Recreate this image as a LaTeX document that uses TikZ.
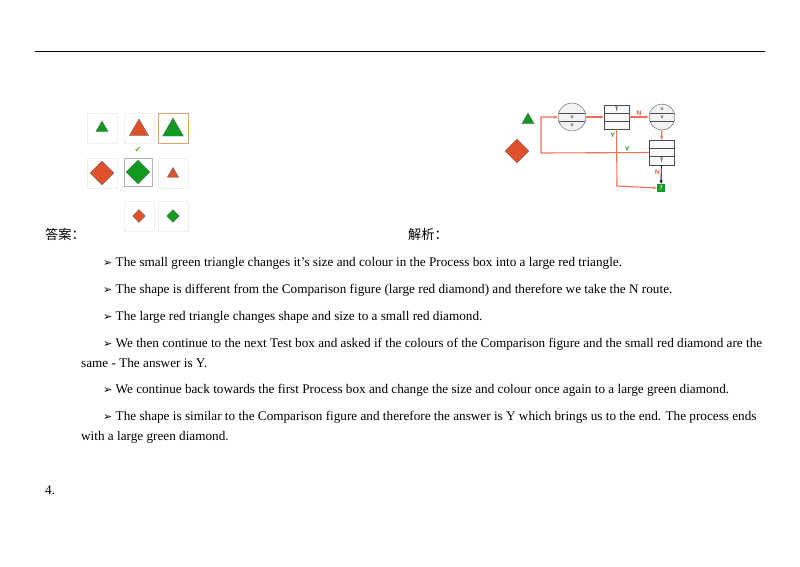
\documentclass[tikz,border=0pt]{standalone}
\usepackage{fontspec}
\setmainfont{Liberation Serif}
\newfontfamily\cjk{Noto Sans CJK SC}
\newfontfamily\djv{DejaVu Sans}
\usetikzlibrary{arrows.meta,shapes.geometric}
\definecolor{rd}{HTML}{E0502A}
\definecolor{gr}{HTML}{109A20}
\definecolor{ln}{HTML}{EE7055}
\newcommand{\bul}{{\djv\fontsize{11}{11}\selectfont ➢}}
\begin{document}
\begin{tikzpicture}[x=1pt,y=-1pt,
 tx/.style={anchor=west,inner sep=0,font=\fontsize{13.2}{14}\selectfont},
 cell/.style={draw=black!6,minimum size=30pt,inner sep=0},
 tri/.style={regular polygon,regular polygon sides=3,inner sep=0,draw=black!60,line width=0.4pt},
 dia/.style={diamond,inner sep=0,draw=black!60,line width=0.4pt},
 fl/.style={ln,line width=1.1pt,-{Stealth[length=4pt]}},
 lb/.style={font=\sffamily\bfseries\fontsize{6.5}{6.5}\selectfont,inner sep=0.8pt}]
\useasboundingbox (0,0) rectangle (800,566);
\draw[line width=0.6pt] (35,51) -- (765,51);
% grid
\node[cell] (c11) at (102,128) {};
\node[cell] (c12) at (139,128) {};
\node[cell,draw=orange!80!black!60,thick] (c13) at (173,128) {};
\node[cell] (c21) at (102,173) {};
\node[cell,draw=gray!60,thick,minimum size=28pt] (c22) at (138,172) {};
\node[cell] (c23) at (173,173) {};
\node[cell] (c32) at (139,216) {};
\node[cell] (c33) at (173,216) {};
\node[tri,fill=gr,minimum size=14pt] (t1) at (102,128) {};
\node[tri,fill=rd,minimum size=22pt] (t2) at (139,130) {};
\node[tri,fill=gr,minimum size=24pt] (t3) at (173,130) {};
\node[dia,fill=rd,minimum size=24pt] (d1) at (102,173) {};
\node[dia,fill=gr,minimum size=24pt] (d2) at (138,172) {};
\node[tri,fill=rd,minimum size=13pt] (t4) at (173,174) {};
\node[dia,fill=rd,minimum size=13pt] (d3) at (139,216) {};
\node[dia,fill=gr,minimum size=13pt] (d4) at (173,216) {};
\node[font=\djv\fontsize{8}{8}\selectfont,text=gr!70!yellow,inner sep=0] (ck) at (138,150) {✔};
% flowchart
\node[tri,fill=gr,minimum size=14pt] (ft) at (528,120) {};
\node[dia,fill=rd,minimum size=24pt] (fd) at (517,151) {};
\node[circle,draw=black!70,fill=gray!10,minimum size=28pt,inner sep=0] (k1) at (572,117) {};
\draw[black!70,line width=0.4pt] (559,113)--(585,113) (559,121)--(585,121);
\node[lb,font=\sffamily\fontsize{6}{6}\selectfont] at (572,117) {x}; \node[lb,font=\sffamily\fontsize{6}{6}\selectfont] at (572,125.5) {x};
\node[circle,draw=black!70,fill=gray!10,minimum size=26pt,inner sep=0] (k2) at (662,117) {};
\draw[black!70,line width=0.4pt] (650,113)--(674,113) (650,121)--(674,121);
\node[lb,font=\sffamily\fontsize{6}{6}\selectfont] at (662,109) {x}; \node[lb,font=\sffamily\fontsize{6}{6}\selectfont] at (662,117) {x};
\node[draw=black!70,fill=gray!5,minimum width=25pt,minimum height=24pt,inner sep=0] (b1) at (616.5,117) {};
\draw[black!70,line width=0.4pt] (604,113)--(629,113) (604,121)--(629,121);
\node[lb] at (616.5,109) {?};
\node[draw=black!70,fill=gray!5,minimum width=25pt,minimum height=25pt,inner sep=0] (b2) at (661.5,152.5) {};
\draw[black!70,line width=0.4pt] (649,148)--(674,148) (649,156)--(674,156);
\node[lb] at (661.5,160.5) {?};
\node[fill=gr,text=white,lb,minimum size=8pt] (g) at (661,188) {?};
\draw[fl] (k1) -- (b1);
\draw[fl] (b1) -- node[lb,above,text=rd]{N} (k2);
\draw[fl] (k2) -- (b2);
\draw[line width=0.9pt,-{Stealth[length=4pt]}] (b2) -- node[lb,left,text=rd,pos=0.4]{N} (g);
\draw[fl] (b2.west) -- node[lb,above,text=gr,pos=0.2]{Y} (541,153) -- (541,117) -- (k1.west);
\draw[fl] (b1.south) -- node[lb,left,text=gr,pos=0.1]{Y} (617,186) -- (g.west);
% texts
\node[tx] (a) at (45,234) {\cjk 答案：};
\node[tx] (j) at (408,234) {\cjk 解析：};
\node[tx] (p1) at (103,263) {\bul\ The small green triangle changes it's size and colour in the Process box into a large red triangle.};
\node[tx] (p2) at (103,290) {\bul\ The shape is different from the Comparison figure (large red diamond) and therefore we take the N route.};
\node[tx] (p3) at (103,317) {\bul\ The large red triangle changes shape and size to a small red diamond.};
\node[tx] (p4) at (103,344) {\bul\ We then continue to the next Test box and asked if the colours of the Comparison figure and the small red diamond are the};
\node[tx] (p4b) at (81,363) {same - The answer is Y.};
\node[tx] (p5) at (103,390) {\bul\ We continue back towards the first Process box and change the size and colour once again to a large green diamond.};
\node[tx] (p6) at (103,417) {\bul\ The shape is similar to the Comparison figure and therefore the answer is Y which brings us to the end. The process ends};
\node[tx] (p6b) at (81,437) {with a large green diamond.};
\node[tx] (n4) at (45,490) {4.};
\end{tikzpicture}
\end{document}
